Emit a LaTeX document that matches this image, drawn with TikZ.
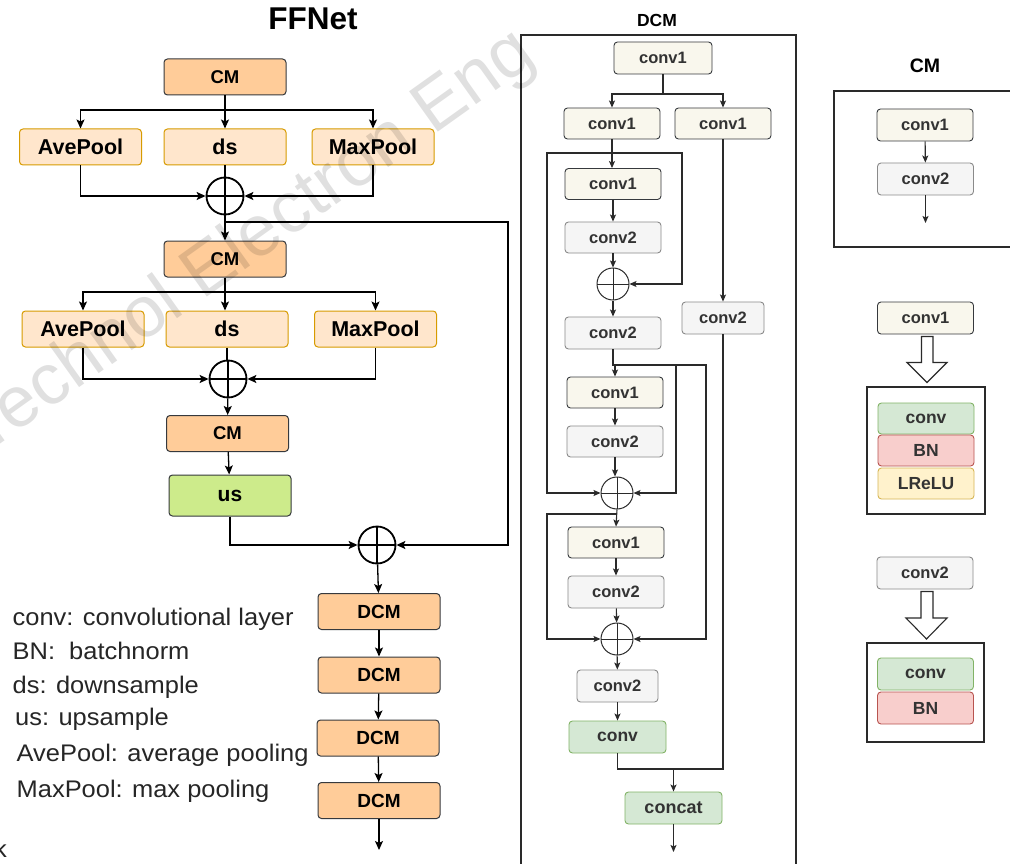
\documentclass[tikz,border=0pt]{standalone}
\usepackage{fontspec}
\setmainfont{Liberation Sans}
\usetikzlibrary{arrows.meta}
\definecolor{dk}{HTML}{36393D}
\definecolor{cmF}{HTML}{FFCC99}
\definecolor{poolF}{HTML}{FFE6CC}
\definecolor{poolD}{HTML}{D79B00}
\definecolor{usF}{HTML}{CDEB8B}
\definecolor{cAF}{HTML}{F9F7ED}
\definecolor{cBF}{HTML}{F5F5F5}
\definecolor{cBD}{HTML}{8A8A8A}
\definecolor{gF}{HTML}{D5E8D4}
\definecolor{gD}{HTML}{82B366}
\definecolor{rF}{HTML}{F8CECC}
\definecolor{rD}{HTML}{B85450}
\definecolor{yF}{HTML}{FFF2CC}
\definecolor{yD}{HTML}{D6B656}
\definecolor{txt}{HTML}{333333}
\definecolor{lnc}{HTML}{2A2A2A}
\newcommand\fsz[1]{\fontsize{#1}{#1}\selectfont}
\begin{document}
\begin{tikzpicture}[x=1pt,y=-1pt,
  every node/.style={inner sep=0pt},
  base/.style={rounded corners=3.5pt, line width=1pt, align=center},
  mainbox/.style={base, draw=dk, minimum width=122pt, minimum height=36pt, font=\bfseries\fsz{18.5}},
  cmbox/.style={mainbox, fill=cmF},
  poolbox/.style={mainbox, fill=poolF, draw=poolD, font=\bfseries\fsz{21.5}},
  usbox/.style={mainbox, fill=usF, minimum height=41pt, font=\bfseries\fsz{21}},
  dcmbox/.style={mainbox, fill=cmF, font=\bfseries\fsz{19}},
  smallbox/.style={base, line width=0.9pt, minimum width=96pt, minimum height=31pt, text=txt, font=\bfseries\fsz{16.5}},
  cA/.style={smallbox, fill=cAF, draw=dk},
  cB/.style={smallbox, fill=cBF, draw=cBD},
  gB/.style={smallbox, fill=gF, draw=gD, font=\bfseries\fsz{17.5}},
  rB/.style={smallbox, fill=rF, draw=rD, font=\bfseries\fsz{17.5}},
  yB/.style={smallbox, fill=yF, draw=yD, font=\bfseries\fsz{17.5}},
  arr/.style={draw=black, line width=1.3pt, -{Stealth[length=9pt,width=8pt,inset=2pt]}},
  lnk/.style={draw=black, line width=1.3pt},
  darr/.style={draw=lnc, line width=1.1pt, -{Stealth[length=7pt,width=6pt,inset=1.5pt]}},
  dlnk/.style={draw=lnc, line width=1.1pt},
  plus/.style={circle, draw=black, line width=1.8pt, minimum size=37pt,
    path picture={\draw[black, line width=1.8pt] (path picture bounding box.north) -- (path picture bounding box.south) (path picture bounding box.west) -- (path picture bounding box.east);}},
  dplus/.style={circle, draw=lnc, line width=1pt, minimum size=32pt,
    path picture={\draw[lnc, line width=1pt] (path picture bounding box.north) -- (path picture bounding box.south) (path picture bounding box.west) -- (path picture bounding box.east);}},
  frame/.style={draw=lnc, line width=1.1pt},
  legend/.style={anchor=base west, text=black!85, font=\fsz{24}, xscale=1.06},
  ttl/.style={anchor=base, font=\bfseries\fsz{18}}
]
\useasboundingbox (0,0) rectangle (1010,864);
\fill[white] (0,0) rectangle (1010,864);

% ---------------- FFNet ----------------
\node[ttl, font=\bfseries\fsz{31.5}] (tffn) at (313,30) {FFNet};
\node[cmbox] (cm1) at (225,77) {CM};
\node[poolbox] (ap1) at (80.5,147) {AvePool};
\node[poolbox] (ds1) at (225,147) {ds};
\node[poolbox] (mp1) at (373,147) {MaxPool};
\node[plus] (p1) at (225,196) {};
\node[cmbox] (cm2) at (225,259) {CM};
\node[poolbox] (ap2) at (83,329) {AvePool};
\node[poolbox] (ds2) at (227,329) {ds};
\node[poolbox] (mp2) at (375.5,329) {MaxPool};
\node[plus] (p2) at (228,379) {};
\node[cmbox] (cm3) at (227.5,433.5) {CM};
\node[usbox] (us) at (230,495.5) {us};
\node[plus] (p3) at (377,545) {};
\node[dcmbox] (d1) at (379,611.5) {DCM};
\node[dcmbox] (d2) at (379,675) {DCM};
\node[dcmbox] (d3) at (378,738) {DCM};
\node[dcmbox] (d4) at (379,800.5) {DCM};
\coordinate (dend) at (379,850);

\coordinate (b1) at (225,110);
\draw[arr] (cm1) -- (ds1);
\draw[arr] (b1) -| (ap1.north);
\draw[arr] (b1) -| (mp1.north);
\draw[lnk] (ds1) -- (p1);
\draw[arr] (ap1.south) |- (p1.west);
\draw[arr] (mp1.south) |- (p1.east);
\draw[arr] (p1) -- (cm2);
\coordinate (j1) at (225,222);
\coordinate (r1) at (508,545);
\draw[arr] (j1) -| (r1) -- (p3.east);

\coordinate (b2) at (227,292);
\draw[arr] (cm2.south) -- (cm2.south |- ds2.north);
\draw[arr] (b2) -| (ap2.north);
\draw[arr] (b2) -| (mp2.north);
\draw[lnk] (ds2.south) -- (ds2.south |- p2.north);
\draw[arr] (ap2.south) |- (p2.west);
\draw[arr] (mp2.south) |- (p2.east);
\draw[arr] (p2) -- (cm3);
\draw[arr] (cm3) -- (us);
\draw[arr] (us.south) |- (p3.west);
\draw[arr] (p3) -- (d1);
\draw[arr] (d1) -- (d2);
\draw[arr] (d2) -- (d3);
\draw[arr] (d3) -- (d4);
\draw[arr] (d4) -- (dend);

% legend text
\node[legend] (l1) at (12.5,625) {conv: convolutional layer};
\node[legend] (l2) at (12.5,659) {BN:\ \ batchnorm};
\node[legend] (l3) at (12.5,693) {ds: downsample};
\node[legend] (l4) at (15,725) {us: upsample};
\node[legend] (l5) at (16.5,761) {AvePool: average pooling};
\node[legend] (l6) at (16.5,797) {MaxPool: max pooling};
\node[legend, anchor=base east] (lk) at (7,857) {k};

% ---------------- DCM ----------------
\node[ttl, font=\bfseries\fsz{17.5}] (tdcm) at (657,27) {DCM};
\draw[frame] (521,35) rectangle (796,866);
\node[cA, minimum width=98pt, minimum height=32pt] (t0) at (663,58) {conv1};
\node[cA] (c1a) at (612,123.5) {conv1};
\node[cA] (c1b) at (723,123.5) {conv1};
\node[cA] (c1c) at (613,184) {conv1};
\node[cB] (c2a) at (613,237.5) {conv2};
\node[dplus] (pA) at (613,284) {};
\node[cB, minimum height=32pt] (c2b) at (613,333) {conv2};
\node[cA] (c1d) at (615,392.5) {conv1};
\node[cB] (c2c) at (615,441.5) {conv2};
\node[dplus] (pB) at (617,493) {};
\node[cA] (c1e) at (616,542.5) {conv1};
\node[cB, minimum height=32pt] (c2d) at (616,592) {conv2};
\node[dplus] (pC) at (617,639) {};
\node[cB, minimum width=81pt, minimum height=32pt] (c2e) at (617.5,686) {conv2};
\node[gB, minimum width=97pt, minimum height=32pt] (cv) at (617.5,737) {conv};
\node[cB, minimum width=82pt, minimum height=32pt] (c2r) at (723,318) {conv2};
\node[gB, minimum width=97pt, minimum height=32pt, font=\bfseries\fsz{18}] (cc) at (673.5,808) {concat};
\coordinate (ccend) at (673.5,852);

\coordinate (db) at (663,94);
\draw[dlnk] (t0) -- (db);
\draw[darr] (db) -| (c1a.north);
\draw[darr] (db) -| (c1b.north);
\draw[darr] (c1b) -- (c2r);
\draw[darr] (c1a.south) -- (c1a.south |- c1c.north);
\coordinate (L1) at (613,153);
\coordinate (q1) at (547,493);
\coordinate (q2) at (682,284);
\draw[darr] (L1) -| (q1) -- (pB.west);
\draw[darr] (L1) -| (q2) -- (pA.east);
\draw[darr] (c1c) -- (c2a);
\draw[darr] (c2a) -- (pA);
\draw[darr] (pA) -- (c2b);
\coordinate (L2) at (615,365);
\draw[dlnk] (c2b.south) -- (c2b.south |- L2) -- (L2);
\draw[darr] (L2) -- (c1d);
\coordinate (k1) at (676,493);
\coordinate (k2) at (706,639);
\draw[darr] (L2) -| (k1) -- (pB.east);
\draw[darr] (L2) -| (k2) -- (pC.east);
\draw[darr] (c1d) -- (c2c);
\draw[darr] (c2c.south) -- (c2c.south |- pB.north);
\coordinate (L3) at (616,514);
\coordinate (q3) at (547,639);
\draw[darr] (pB.south) -- (c1e.north);
\draw[darr] (L3) -| (q3) -- (pC.west);
\draw[darr] (c1e) -- (c2d);
\draw[darr] (c2d) -- (pC);
\draw[darr] (pC) -- (c2e);
\draw[darr] (c2e) -- (cv);
\coordinate (m) at (673.5,769);
\draw[dlnk] (cv.south) |- (m);
\draw[dlnk] (c2r.south) |- (m);
\draw[darr] (m) -- (cc);
\draw[darr] (cc) -- (ccend);

% ---------------- CM ----------------
\node[ttl, font=\bfseries\fsz{19.5}] (tcm) at (925,73) {CM};
\draw[frame] (834,91) rectangle (1015,247);
\node[cA, minimum height=32pt] (pc1) at (925,125) {conv1};
\node[cB, minimum height=32pt] (pc2) at (925.5,179) {conv2};
\coordinate (pcend) at (925.5,223);
\draw[darr] (pc1) -- (pc2);
\draw[darr] (pc2) -- (pcend);

% ---------------- conv1 / conv2 definitions ----------------
\node[cA, minimum height=32pt] (lc1) at (925.5,318) {conv1};
\draw[frame, fill=white] (921.5,336.5) -- (933,336.5) -- (933,362.5) -- (947,362.5) -- (927,382.5) -- (907,362.5) -- (921.5,362.5) -- cycle;
\draw[frame] (867,387) rectangle (985,514);
\node[gB] (lv1) at (926,418.5) {conv};
\node[rB] (lb1) at (926,450.5) {BN};
\node[yB] (lr1) at (926,483.5) {LReLU};

\node[cB, minimum height=32pt] (lc2) at (925,573) {conv2};
\draw[frame, fill=white] (921,591.5) -- (933,591.5) -- (933,618) -- (947,618) -- (926.5,639) -- (906,618) -- (921,618) -- cycle;
\draw[frame] (867,643) rectangle (984,742);
\node[gB, minimum height=32pt] (lv2) at (925.5,674) {conv};
\node[rB, minimum height=32pt] (lb2) at (925.5,708) {BN};

% watermark
\node[anchor=base west, rotate=35.5, text=black, text opacity=0.12, font=\fsz{72}] (wm) at (-16,456) {Technol Electron Eng};
\end{tikzpicture}
\end{document}
